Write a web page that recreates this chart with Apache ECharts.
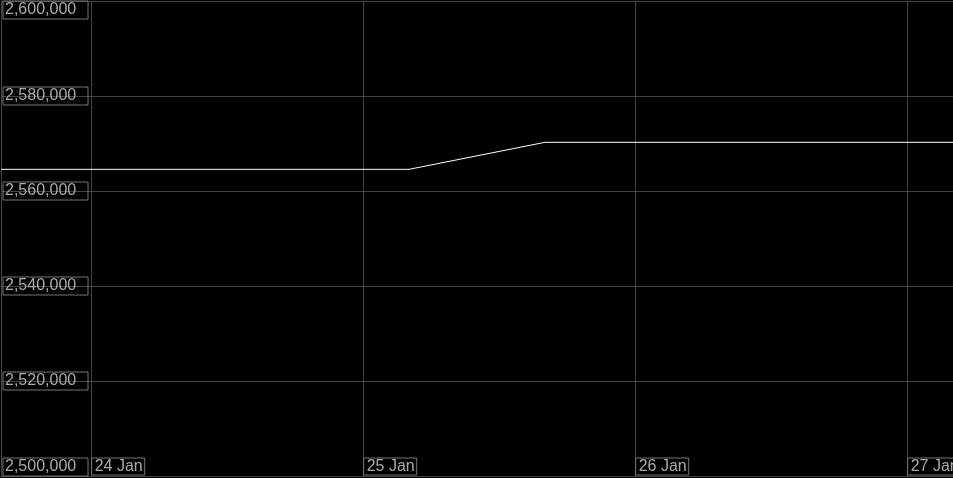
<!DOCTYPE html>
<html>
<head>
<meta charset="utf-8">
<script src="https://cdn.jsdelivr.net/npm/echarts@6/dist/echarts.min.js"></script>
<style>
  html, body { margin: 0; padding: 0; background: #000; }
  #chart { width: 953px; height: 478px; }
</style>
</head>
<body>
<div id="chart"></div>
<script>
// sample times (every 12 hours) and values
var times = [
    [2023, 0, 23, 16], [2023, 0, 24, 4], [2023, 0, 24, 16], [2023, 0, 25, 4],
    [2023, 0, 25, 16], [2023, 0, 26, 4], [2023, 0, 26, 16], [2023, 0, 27, 4]
];
var values = [2564560, 2564560, 2564560, 2564560, 2570250, 2570250, 2570250, 2570250];
var monthNames = ['Jan','Feb','Mar','Apr','May','Jun','Jul','Aug','Sep','Oct','Nov','Dec'];

var myChart = echarts.init(document.getElementById('chart'));

var data = [];
for (var i = 0; i < times.length; i++) {
    var t = times[i];
    data.push([new Date(t[0], t[1], t[2], t[3]).getTime(), values[i]]);
}

var labelBox = {
    color: '#aaa',
    fontSize: 16,
    fontFamily: 'Liberation Sans, Arial, sans-serif',
    borderColor: '#777',
    borderWidth: 1
};

var option = {
    backgroundColor: '#000',
    animation: false,
    grid: { left: 1, right: 0, top: 1, bottom: 2, containLabel: false, outerBoundsMode: 'none' },
    xAxis: {
        type: 'time',
        min: data[0][0],
        max: data[data.length - 1][0],
        minInterval: 24 * 3600 * 1000,
        axisLine: { show: true, lineStyle: { color: '#444' } },
        axisTick: { show: false },
        splitLine: { show: true, lineStyle: { color: '#444', width: 1 } },
        axisLabel: Object.assign({}, labelBox, {
            inside: true,
            margin: 1,
            align: 'left',
            padding: [1, 2, 0, 3],
            lineHeight: 16,
            hideOverlap: false,
            formatter: function (v) {
                var d = new Date(v);
                return d.getDate() + ' ' + monthNames[d.getMonth()];
            }
        })
    },
    yAxis: {
        type: 'value',
        min: 2500000,
        max: 2600000,
        interval: 20000,
        axisLine: { show: true, lineStyle: { color: '#444' } },
        axisTick: { show: false },
        splitLine: { show: true, lineStyle: { color: '#444', width: 1 } },
        axisLabel: Object.assign({}, labelBox, {
            inside: true,
            margin: 2,
            align: 'left',
            width: 81,
            padding: [1, 2, 1, 2],
            lineHeight: 16,
            verticalAlignMinLabel: 'bottom',
            verticalAlignMaxLabel: 'top',
            formatter: function (v) {
                return v.toString().replace(/\B(?=(\d{3})+(?!\d))/g, ',');
            }
        })
    },
    series: [{
        type: 'line',
        data: data,
        showSymbol: false,
        lineStyle: { color: '#fff', width: 1 },
        itemStyle: { color: '#fff' }
    }]
};

myChart.setOption(option);
</script>
</body>
</html>
